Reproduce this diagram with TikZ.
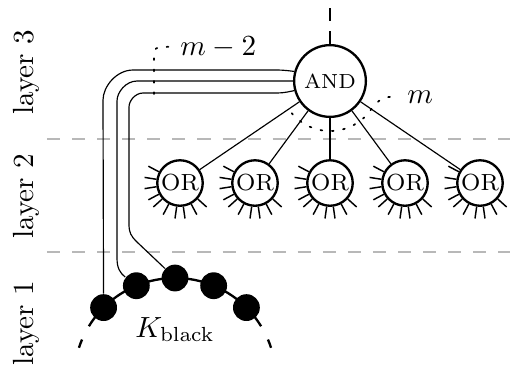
\documentclass[tikz,border=0pt]{standalone}
\usetikzlibrary{calc}
\begin{document}
\begin{tikzpicture}[x=0.343pt,y=-0.343pt,
  andnode/.style={circle,draw,thick,minimum size=24.6pt,inner sep=0pt,font=\scriptsize},
  ornode/.style={circle,draw,thick,minimum size=15.6pt,inner sep=0pt,font=\footnotesize},
  blackdot/.style={circle,fill=black,minimum size=9.2pt,inner sep=0pt},
  tickline/.style={line width=0.5pt},
  layerdiv/.style={black!28,line width=0.5pt,dash pattern=on 4.5pt off 4.1pt},
  dotline/.style={dash pattern=on 0.6pt off 3.3pt,line width=0.6pt,line cap=round},
  layerlab/.style={rotate=90,anchor=base}]
\useasboundingbox (0,0) rectangle (510,369);

% layer dividers
\coordinate (d1l) at (47,139); \coordinate (d1r) at (510,139);
\coordinate (d2l) at (47,252); \coordinate (d2r) at (510,252);
\draw[layerdiv] (d1l) -- (d1r);
\draw[layerdiv] (d2l) -- (d2r);

% layer labels
\node[layerlab] (l3) at (33,72) {layer 3};
\node[layerlab] (l2) at (33,196) {layer 2};
\node[layerlab] (l1) at (33,323) {layer 1};

% AND gate
\node[andnode] (AND) at (330,81) {AND};
\coordinate (topend) at (330,0);
\draw[thick,dash pattern=on 4.5pt off 3.4pt] (AND.north) -- (topend);

% OR gates
\foreach \i/\x in {1/180,2/255,3/330,4/405,5/480}{
  \node[ornode] (or\i) at (\x,183) {OR};
  \draw (AND) -- (or\i);
  \foreach \a in {152,171,189,208,222,242,262,278,298,318}
    \draw[tickline] (or\i.\a) -- ++(\a:4.1pt);
}

% K_black arc and dots
\coordinate (kc) at (175,379);
\draw[thick] ($(kc)+(-148.5:101)$) arc[start angle=-148.5,end angle=-31.5,radius=101];
\draw[thick] ($(kc)+(-157:101)$) arc[start angle=-157,end angle=-162,radius=101];
\draw[thick] ($(kc)+(-23:101)$) arc[start angle=-23,end angle=-18,radius=101];
\foreach \i/\a in {1/-135,2/-112.5,3/-90,4/-67.5,5/-45}
  \node[blackdot] (b\i) at ($(kc)+(\a:101)$) {};
\node[anchor=base] (K) at (175,337) {$K_{\mathrm{black}}$};

% three wires from AND to K_black
\draw (AND.165) .. controls (283,70) .. (268,70) -- (133,70)
  .. controls (116.4,70) and (103,86.6) .. (103,100) -- (b1);
\draw (AND.180) -- (137,81)
  .. controls (126,81) and (117,92) .. (117,101) -- (117,258)
  .. controls (117,268) and (120,273) .. (b2);
\draw (AND.195) .. controls (283,93) .. (268,93) -- (143,93)
  .. controls (135.3,93) and (129,100.7) .. (129,107) -- (129,224)
  .. controls (129,233) and (131,236) .. (137,242) -- (b3);

% m-2 label
\node[anchor=base west] (m2) at (170,55) {$m-2$};
\coordinate (m2foot) at (154,94);
\draw[dotline] (m2foot) -- (154,60) .. controls (154,47) .. (m2.west);

% m label
\node[anchor=base west] (mlab) at (397,103) {$m$};
\draw[dotline] ($(AND.center)+(140:50)$) arc[start angle=140,end angle=30,radius=50]
  .. controls (383,97) .. (mlab.west);
\end{tikzpicture}
\end{document}
